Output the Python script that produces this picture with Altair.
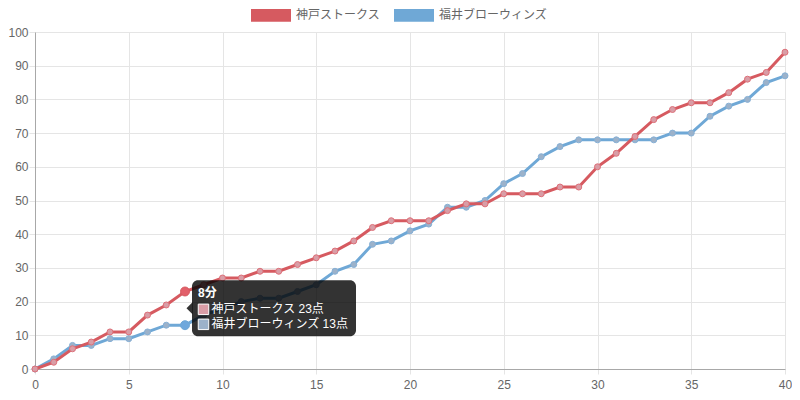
import altair as alt
import pandas as pd

minutes = list(range(41))
kobe = [0, 2, 6, 8, 11, 11, 16, 19, 23, 25, 27, 27, 29, 29, 31, 33, 35, 38, 42, 44,
        44, 44, 47, 49, 49, 52, 52, 52, 54, 54, 60, 64, 69, 74, 77, 79, 79, 82, 86, 88, 94]
fukui = [0, 3, 7, 7, 9, 9, 11, 13, 13, 16, 18, 20, 21, 21, 23, 25, 29, 31, 37, 38,
         41, 43, 48, 48, 50, 55, 58, 63, 66, 68, 68, 68, 68, 68, 70, 70, 75, 78, 80, 85, 87]
teams = ["神戸ストークス", "福井ブローウィンズ"]
line_colors = ["#d65a60", "#6fa8d6"]
point_fill = ["#d99da6", "#9cb2ca"]
point_stroke = ["#dd7079", "#86b0d6"]
hover_minute = 8

series = [kobe, fukui]
frames = [pd.DataFrame({"minute": minutes, "score": s, "team": t}) for s, t in zip(series, teams)]

X = alt.X("minute:Q", scale=alt.Scale(domain=[0, 40], nice=False),
          axis=alt.Axis(values=list(range(0, 41, 5)), title=None, tickSize=5, labelPadding=5,
                        labelFlush=False))
Y = alt.Y("score:Q", scale=alt.Scale(domain=[0, 100], nice=False),
          axis=alt.Axis(values=list(range(0, 101, 10)), title=None, tickSize=6, labelPadding=1))

layers = []
# draw blue first so red sits on top
for i in [1, 0]:
    base = alt.Chart(frames[i])
    layers.append(base.mark_line(color=line_colors[i], strokeWidth=3).encode(x=X, y=Y))
    layers.append(base.mark_circle(size=36, fill=point_fill[i], stroke=point_stroke[i],
                                   strokeWidth=1, opacity=1).encode(x=X, y=Y))

# legend-only layer
legend_df = pd.DataFrame({"minute": [0, 0], "score": [0, 0], "team": teams})
legend_layer = alt.Chart(legend_df).mark_square(opacity=1).encode(
    x=X, y=Y,
    color=alt.Color("team:N", scale=alt.Scale(domain=teams, range=line_colors),
                    legend=alt.Legend(title=None, orient="none", direction="horizontal",
                                      legendX=216, legendY=-37,
                                      symbolType="M-1,-0.32L1,-0.32L1,0.32L-1,0.32Z",
                                      symbolSize=1600, symbolStrokeWidth=0, symbolOpacity=1,
                                      labelFontSize=12, labelColor="#666666",
                                      labelOffset=5, columnPadding=13, labelLimit=300))
).transform_filter("false")
layers.append(legend_layer)

# hovered points
hov = pd.DataFrame({"minute": [hover_minute] * 2,
                    "score": [kobe[hover_minute], fukui[hover_minute]],
                    "team": teams})
hover_fill = ["#e2606a", "#6fa8dc"]
for i in [1, 0]:
    layers.append(alt.Chart(hov.iloc[[i]]).mark_circle(size=80, fill=hover_fill[i],
                                                       stroke=line_colors[i], strokeWidth=1,
                                                       opacity=1).encode(x=X, y=Y))

# tooltip
tip_mid = (kobe[hover_minute] + fukui[hover_minute]) / 2
tip = pd.DataFrame({"minute": [hover_minute], "score": [tip_mid]})
tip_base = alt.Chart(tip)
layers.append(tip_base.mark_rect(width=164, height=56, cornerRadius=6, color="#000000",
                                 opacity=0.8, xOffset=89).encode(x=X, y=Y))
layers.append(tip_base.mark_point(shape="M1,-1L0,0L1,1Z", size=144, filled=True,
                                  color="#000000", opacity=0.8, xOffset=1.5).encode(x=X, y=Y))
layers.append(tip_base.mark_text(text=f"{hover_minute}分", align="left", baseline="alphabetic",
                                 dx=13, dy=-11, color="white", fontSize=12, fontWeight="bold",
                                 font="Liberation Sans, Noto Sans CJK JP").encode(x=X, y=Y))
vals = [kobe[hover_minute], fukui[hover_minute]]
for k in range(2):
    dy = 1 + 15 * k
    layers.append(tip_base.mark_square(size=110, fill=point_fill[k], stroke="#ffffff",
                                       strokeWidth=1, opacity=1, xOffset=18.5,
                                       yOffset=dy).encode(x=X, y=Y))
    layers.append(tip_base.mark_text(text=f"{teams[k]} {vals[k]}点", align="left",
                                     baseline="middle", dx=26.5, dy=dy, color="white",
                                     fontSize=12,
                                     font="Liberation Sans, Noto Sans CJK JP").encode(x=X, y=Y))

chart = alt.layer(*layers).properties(
    width=750, height=337,
    autosize=alt.AutoSizeParams(type="none"),
    padding={"left": 27, "top": 24, "right": 7, "bottom": 22},
).configure_view(stroke=None).configure_axis(
    gridColor="#e5e5e5", tickColor="#e5e5e5", domainColor="#a8a8a8",
    labelColor="#666666", labelFontSize=12, labelFont="Liberation Sans",
).configure_legend(labelFont="Liberation Sans, Noto Sans CJK JP")

chart.save("out.html", embed_options={"renderer": "svg", "actions": False})
